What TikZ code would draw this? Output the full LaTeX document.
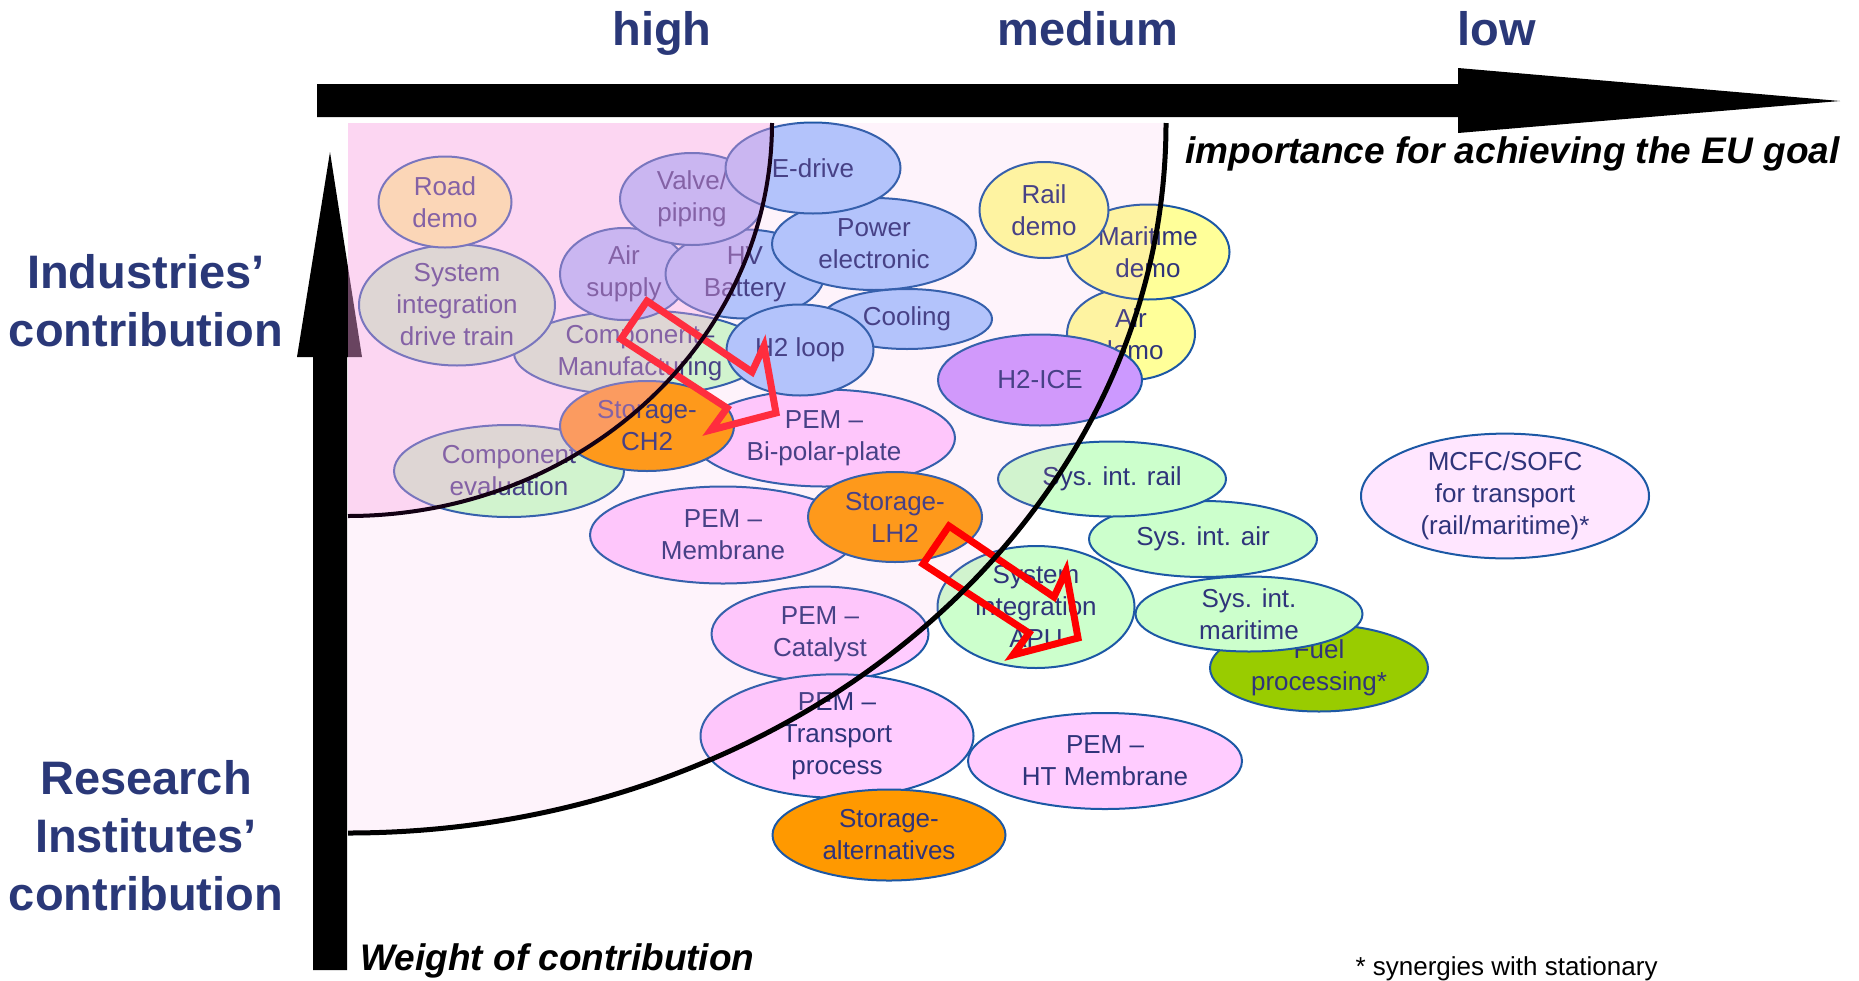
\documentclass[tikz,border=0pt]{standalone}
\usepackage{fontspec}
\setmainfont{Liberation Sans}
\usetikzlibrary{shapes.geometric}

\definecolor{navy}{RGB}{42,56,120}
\definecolor{ink}{RGB}{47,52,122}
\definecolor{rim}{RGB}{28,88,165}
\definecolor{trainblue}{RGB}{170,200,255}
\definecolor{sysgreen}{RGB}{204,255,204}
\definecolor{demoyellow}{RGB}{255,255,153}
\definecolor{pempink}{RGB}{255,204,255}
\definecolor{tankorange}{RGB}{255,153,0}
\definecolor{icepurple}{RGB}{204,153,255}
\definecolor{fuelgreen}{RGB}{153,204,0}
\definecolor{sofcpink}{RGB}{255,230,255}
\definecolor{zonepink}{RGB}{247,160,225}
\definecolor{shiftred}{RGB}{255,45,62}

\tikzset{
	topic/.style = {ellipse, draw = rim, line width = 2pt, inner sep = 0pt, align = center, text = ink, font = \fontsize{26}{32}\selectfont},
	dims/.style 2 args = {minimum width = #1pt, minimum height = #2pt},
	level/.style = {text = navy, font = \fontsize{47}{58}\selectfont\bfseries, align = center},
	axisname/.style = {font = \fontsize{37}{40}\selectfont\bfseries\itshape},
	movearrow/.style = {draw = shiftred, line width = 7pt}
}

\begin{document}
\begin{tikzpicture}[x = 1pt, y = -1pt]

	\useasboundingbox (0, 0) rectangle (1859, 980);

	% Headings
	
	\node [level, anchor = base] (high) at (662, 45) {high};
	\node [level, anchor = base] (medium) at (1088, 45) {medium};
	\node [level, anchor = base] (low) at (1497, 45) {low};
	\node [level] (industry) at (146, 301) {Industries’\\contribution};
	\node [level, text depth = 0pt] (research) at (146, 835) {Research\\Institutes’\\contribution};
	\node [axisname, anchor = base east] (importance) at (1843, 163) {importance for achieving the EU goal};
	\node [axisname, anchor = base west] (weight) at (357, 970) {Weight of contribution};
	\node [font = \fontsize{26}{30}\selectfont, anchor = base west] (synergy) at (1352, 975) {* synergies with stationary};
	
	% Axes
	
	\fill (317, 84) -- (1458, 84) -- (1458, 68) -- (1840, 101) -- (1458, 133) -- (1458, 117) -- (317, 117) -- cycle;
	\fill (313, 970) -- (313, 357) -- (297, 357) -- (330, 152) -- (362, 357) -- (347, 357) -- (347, 970) -- cycle;
	
	% Topics, high importance
	
	\node [topic, fill = sysgreen, dims = {252}{85}] (manufacturing) at (640, 353) {Component–\\Manufacturing};
	\node [topic, fill = sysgreen, dims = {196}{121}] (drivetrain) at (457, 305) {System\\integration\\drive train};
	\node [topic, fill = demoyellow, dims = {133}{91}] (road) at (445, 202) {Road\\demo};
	\node [topic, fill = sysgreen, dims = {230}{92}] (evaluation) at (509, 471) {Component\\evaluation};
	\node [topic, fill = trainblue, dims = {128}{92}] (air) at (624, 274) {Air\\supply};
	\node [topic, fill = trainblue, dims = {159}{89}] (battery) at (745, 274) {HV\\Battery};
	\node [topic, fill = trainblue, dims = {144}{92}] (valve) at (692, 199) {Valve/\\piping};
	\node [topic, fill = trainblue, dims = {204}{92}] (power) at (874, 244) {Power\\electronic};
	\node [topic, fill = trainblue, dims = {175}{91}] (edrive) at (813, 168) {E-drive};
	\node [topic, fill = trainblue, dims = {170}{60}] (cooling) at (907, 319) {Cooling};
	\node [topic, fill = pempink, dims = {262}{97}] (bipolar) at (824, 438) {PEM –\\Bi-polar-plate};
	\node [topic, fill = trainblue, dims = {147}{91}] (loop) at (800, 350) {H2 loop};
	\node [topic, fill = tankorange, dims = {174}{90}] (ch2) at (647, 426) {Storage-\\CH2};
	
	% Topics, medium importance
	
	\node [topic, fill = pempink, dims = {266}{97}] (membrane) at (723, 535) {PEM –\\Membrane};
	\node [topic, fill = tankorange, dims = {174}{90}] (lh2) at (895, 517) {Storage-\\LH2};
	\node [topic, fill = pempink, dims = {217}{95}] (catalyst) at (820, 634) {PEM –\\Catalyst};
	\node [topic, fill = pempink, dims = {273}{105}] (transport) at (837, 736) {PEM –\\Transport\\process};
	\node [topic, fill = tankorange, dims = {233}{91}] (alternatives) at (889, 835) {Storage-\\alternatives};
	\node [topic, fill = pempink, dims = {274}{96}] (htmembrane) at (1105, 761) {PEM –\\HT Membrane};
	\node [topic, fill = demoyellow, dims = {128}{92}] (airdemo) at (1131, 334) {Air\\demo};
	\node [topic, fill = demoyellow, dims = {163}{95}] (maritime) at (1148, 252) {Maritime\\demo};
	\node [topic, fill = demoyellow, dims = {129}{96}] (rail) at (1044, 210) {Rail\\demo};
	\node [topic, fill = icepurple, dims = {204}{91}] (ice) at (1040, 380) {H2-ICE};
	
	% Topics, low importance
	
	\node [topic, fill = sysgreen, dims = {228}{76}] (sysair) at (1203, 539) {Sys. int. air};
	\node [topic, fill = sysgreen, dims = {228}{75}] (sysrail) at (1112, 479) {Sys. int. rail};
	\node [topic, fill = sysgreen, dims = {197}{122}] (apu) at (1036, 607) {System\\integration\\APU};
	\node [topic, fill = fuelgreen, dims = {218}{87}] (fuel) at (1319, 668) {Fuel\\processing*};
	\node [topic, fill = sysgreen, dims = {227}{75}] (sysmaritime) at (1249, 614) {Sys. int.\\maritime};
	\node [topic, fill = sofcpink, dims = {288}{111}] (sofc) at (1505, 496) {MCFC/SOFC\\for transport\\(rail/maritime)*};
	
	% Weight zones
	
	\fill [zonepink, opacity = 0.12] (348, 123) -- (1166, 123) arc [start angle = 0, end angle = -90, x radius = 818pt, y radius = 710pt] -- cycle;
	\fill [zonepink, opacity = 0.35] (348, 123) -- (772, 123) arc [start angle = 0, end angle = -90, x radius = 424pt, y radius = 393pt] -- cycle;
	
	% Shifts
	
	\draw [movearrow] (647, 301) -- +(-26, 38) -- +(80, 107) -- +(64, 129) -- +(129, 112) -- +(117, 45) -- +(105, 71) -- cycle;
	\draw [movearrow, draw = red] (949, 526) -- +(-26, 38) -- +(80, 107) -- +(64, 129) -- +(129, 112) -- +(117, 45) -- +(105, 71) -- cycle;
	
	% Zone borders
	
	\draw [line width = 4pt, draw = black!85!violet] (772, 123) arc [start angle = 0, end angle = -90, x radius = 424pt, y radius = 393pt];
	\draw [line width = 5pt] (1166, 123) arc [start angle = 0, end angle = -90, x radius = 818pt, y radius = 710pt];
	
\end{tikzpicture}
\end{document}
